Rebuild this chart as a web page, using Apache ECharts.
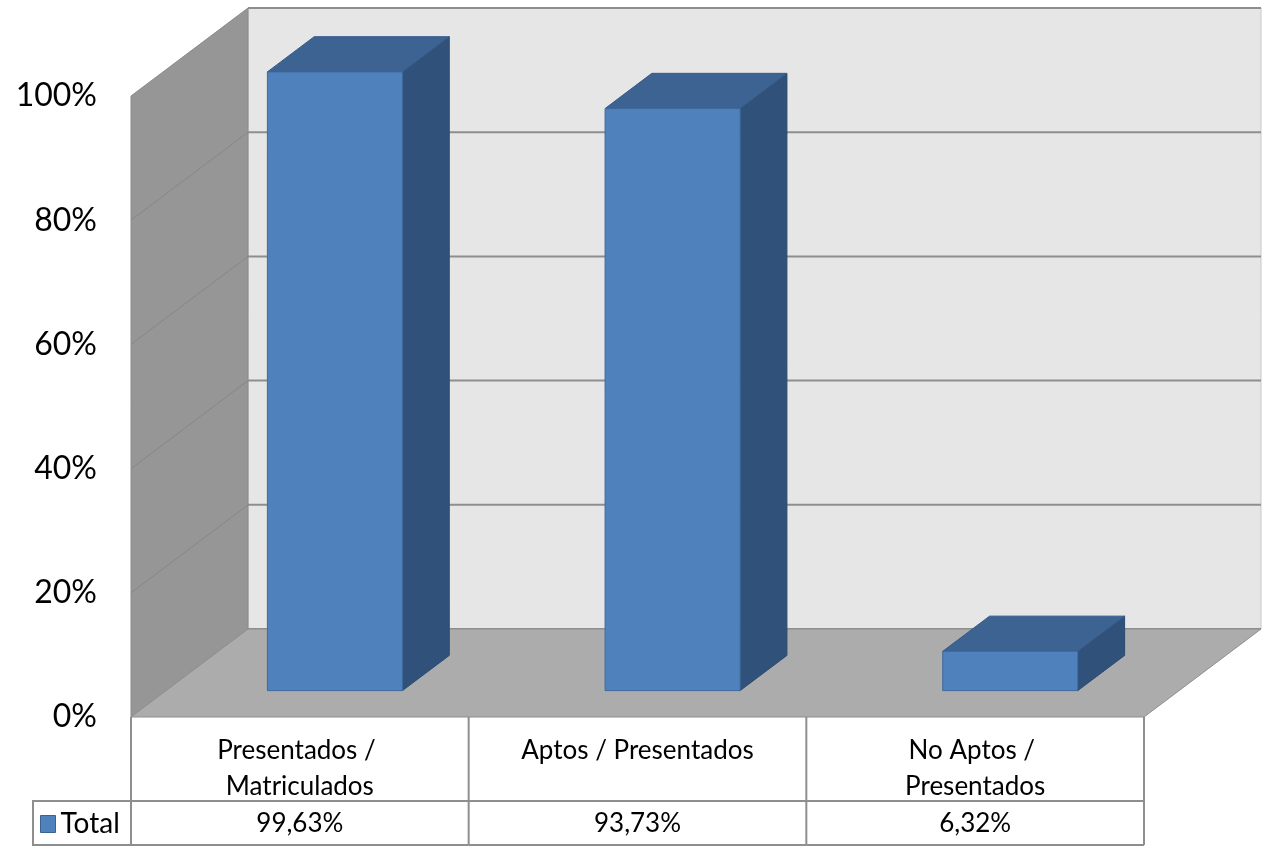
<!DOCTYPE html>
<html>
<head>
<meta charset="utf-8">
<script src="https://cdn.jsdelivr.net/npm/echarts@6/dist/echarts.min.js"></script>
<style>
  html, body { margin: 0; padding: 0; background: #ffffff; }
  #chart { width: 1264px; height: 847px; }
</style>
</head>
<body>
<div id="chart"></div>
<script>
// ---- data ----
const categories = ['Presentados / Matriculados', 'Aptos / Presentados', 'No Aptos / Presentados'];
const values = [0.9963, 0.9373, 0.0632];
const yTicks = [0, 0.2, 0.4, 0.6, 0.8, 1];
const seriesName = 'Total';

// ---- style constants ----
const DX = 117, DY = 88;           // oblique depth offset of the 3D box
const BAR_FRONT = 0.3, BAR_DEPTH = 0.4, BAR_W = 0.4;
const FONT = 'Lato, "Liberation Sans", sans-serif';
const ROW1 = 84, ROW2 = 44, LEG_LEFT = 33;
const LINE = '#8e8e8e';

function pct(v) { return (v * 100).toFixed(2).replace('.', ',') + '%'; }

const chart = echarts.init(document.getElementById('chart'), null, { renderer: 'canvas' });

function renderWalls(params, api) {
  const cs = params.coordSys;
  const x0 = cs.x, x1 = cs.x + cs.width;
  const yB = api.coord([0, 0])[1];
  const yT = api.coord([0, 1])[1];
  const children = [];
  // back wall
  children.push({ type: 'polygon', shape: { points: [[x0 + DX, yT - DY], [x1 + DX, yT - DY], [x1 + DX, yB - DY], [x0 + DX, yB - DY]] },
    style: { fill: '#e6e6e6', stroke: '#c8c8c8', lineWidth: 1 } });
  // back wall grid lines
  yTicks.forEach(function (t) {
    const y = api.coord([0, t])[1] - DY;
    children.push({ type: 'line', shape: { x1: x0 + DX, y1: y, x2: x1 + DX, y2: y },
      style: { stroke: LINE, lineWidth: 2 } });
  });
  // left wall
  children.push({ type: 'polygon', shape: { points: [[x0, yT], [x0 + DX, yT - DY], [x0 + DX, yB - DY], [x0, yB]] },
    style: { fill: '#969696', stroke: '#8a8a8a', lineWidth: 1 } });
  yTicks.forEach(function (t) {
    if (t === 0 || t === 1) return;
    const y = api.coord([0, t])[1];
    children.push({ type: 'line', shape: { x1: x0, y1: y, x2: x0 + DX, y2: y - DY },
      style: { stroke: '#878787', lineWidth: 1 } });
  });
  // floor
  children.push({ type: 'polygon', shape: { points: [[x0, yB], [x1, yB], [x1 + DX, yB - DY], [x0 + DX, yB - DY]] },
    style: { fill: '#acacac', stroke: '#8e8e8e', lineWidth: 1 } });
  return { type: 'group', children: children };
}

function renderBar(params, api) {
  const idx = api.value(0);
  const v = api.value(1);
  const top = api.coord([idx, v]);
  const bot = api.coord([idx, 0]);
  const band = api.size([1, 0])[0];
  const w = band * BAR_W;
  const fx = BAR_FRONT * DX, fy = BAR_FRONT * DY;
  const bx = BAR_DEPTH * DX, by = BAR_DEPTH * DY;
  const L = top[0] - w / 2 + fx, R = top[0] + w / 2 + fx;
  const yT = top[1] - fy, yB = bot[1] - fy;
  return { type: 'group', children: [
    { type: 'polygon', shape: { points: [[R, yT], [R + bx, yT - by], [R + bx, yB - by], [R, yB]] },
      style: { fill: '#30517a', stroke: '#2b4a70', lineWidth: 1 } },
    { type: 'polygon', shape: { points: [[L, yT], [R, yT], [R + bx, yT - by], [L + bx, yT - by]] },
      style: { fill: '#3c6392', stroke: '#35598a', lineWidth: 1 } },
    { type: 'rect', shape: { x: L, y: yT, width: R - L, height: yB - yT },
      style: { fill: '#4f81bd', stroke: '#3f6a9c', lineWidth: 1 } }
  ] };
}

function renderTable(params, api) {
  const idx = api.value(0);
  const v = api.value(1);
  const c = api.coord([idx, 0]);
  const band = api.size([1, 0])[0];
  const xl = c[0] - band / 2, xr = c[0] + band / 2;
  const y0 = c[1];
  const children = [];
  children.push({ type: 'text', style: { text: categories[idx], x: c[0], y: y0 + 16, align: 'center', verticalAlign: 'top',
    width: 250, overflow: 'break', lineHeight: 36, font: '26px ' + FONT, fill: '#000' } });
  children.push({ type: 'text', style: { text: pct(v), x: c[0], y: y0 + ROW1 + ROW2 / 2 + 1, align: 'center', verticalAlign: 'middle',
    font: '26px ' + FONT, fill: '#000' } });
  // lines
  children.push({ type: 'line', shape: { x1: xr, y1: y0, x2: xr, y2: y0 + ROW1 + ROW2 }, style: { stroke: LINE, lineWidth: 2 } });
  children.push({ type: 'line', shape: { x1: xl, y1: y0 + ROW1, x2: xr, y2: y0 + ROW1 }, style: { stroke: LINE, lineWidth: 2 } });
  children.push({ type: 'line', shape: { x1: xl, y1: y0 + ROW1 + ROW2, x2: xr, y2: y0 + ROW1 + ROW2 }, style: { stroke: LINE, lineWidth: 2 } });
  if (idx === 0) {
    children.push({ type: 'line', shape: { x1: xl, y1: y0, x2: xl, y2: y0 + ROW1 + ROW2 }, style: { stroke: LINE, lineWidth: 2 } });
    children.push({ type: 'polyline', shape: { points: [[xl, y0 + ROW1], [LEG_LEFT, y0 + ROW1], [LEG_LEFT, y0 + ROW1 + ROW2], [xl, y0 + ROW1 + ROW2]] },
      style: { stroke: LINE, lineWidth: 2, fill: null } });
  }
  return { type: 'group', children: children };
}

const barData = values.map(function (v, i) { return [i, v]; });

const option = {
  animation: false,
  color: ['#4f81bd'],
  grid: { left: 131, right: 120, top: 96, bottom: 130, containLabel: false },
  legend: {
    data: [seriesName], left: 40, top: 810, padding: 0,
    icon: 'rect', itemWidth: 15, itemHeight: 17, itemGap: 5,
    itemStyle: { color: '#4f81bd', borderColor: '#3a6391', borderWidth: 1 },
    textStyle: { fontSize: 28, fontFamily: FONT, color: '#000', padding: [0, 0, 0, 0] }
  },
  xAxis: {
    type: 'category', data: categories,
    axisLine: { show: false }, axisTick: { show: false }, axisLabel: { show: false }, splitLine: { show: false }
  },
  yAxis: {
    type: 'value', min: 0, max: 1, interval: 0.2,
    axisLine: { show: false }, axisTick: { show: false }, splitLine: { show: false },
    axisLabel: { margin: 34, fontSize: 32, fontFamily: FONT, color: '#000',
      formatter: function (v) { return Math.round(v * 100) + '%'; } }
  },
  series: [
    { name: 'walls', type: 'custom', renderItem: renderWalls, data: [[0, 0]], z: 1, silent: true },
    { name: seriesName, type: 'custom', renderItem: renderBar, data: barData, z: 3,
      itemStyle: { color: '#4f81bd' } },
    { name: 'table', type: 'custom', renderItem: renderTable, data: barData, z: 4, silent: true }
  ]
};
chart.setOption(option);
</script>
</body>
</html>
